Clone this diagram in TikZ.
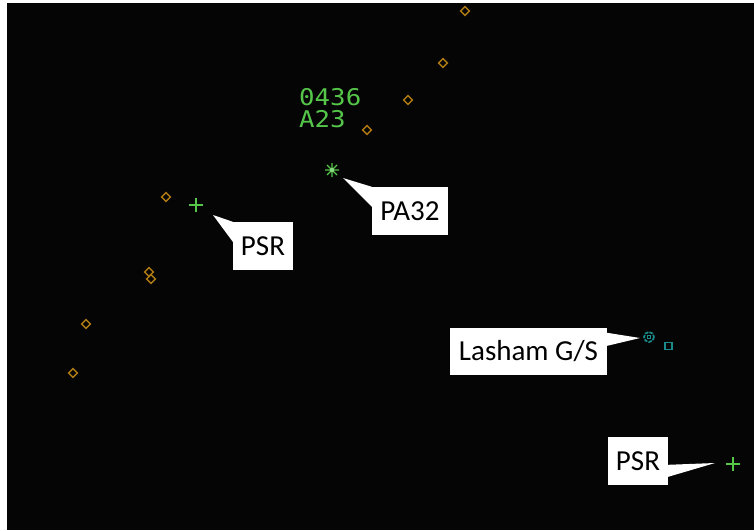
\documentclass[tikz,border=0pt]{standalone}
\usepackage{fontspec}
\setmainfont{Carlito}
\newfontfamily\radarfont{DejaVu Sans Mono}
\usetikzlibrary{shapes.geometric,calc}
\definecolor{radargreen}{HTML}{55C64A}
\definecolor{wpcol}{HTML}{B07A12}
\definecolor{gscol}{HTML}{1A8C8C}
\definecolor{screen}{HTML}{050505}
\begin{document}
\begin{tikzpicture}[x=1pt,y=-1pt,
  callout/.style={fill=white, inner sep=0pt, text=black, font=\fontsize{29}{32}\selectfont},
  wedge/.style={fill=white},
  wpt/.style={draw=wpcol, line width=1.4pt, diamond, minimum size=9.5pt, inner sep=0pt},
  symb/.style={radargreen, line width=1.3pt},
  tagtext/.style={text=radargreen, font=\radarfont\fontsize{23}{23}\selectfont, inner sep=0pt, anchor=west, xscale=1.12}
]
\useasboundingbox (0,0) rectangle (754,530);
\fill[screen] (7,3) rectangle (754,530);

% waypoints
\foreach \n/\px/\py in {w1/465/11, w2/443/63, w3/408/100, w4/367/130, w5/166/197, w6/149/272, w7/151/279, w8/86/324, w9/73/373}
  \node[wpt] (\n) at (\px,\py) {};

% track tag
\node[tagtext] (tag1) at (299,97) {0436};
\node[tagtext] (tag2) at (299,119) {A23};

% symbols
\coordinate (ast) at (332,170);
\draw[symb] ($(ast)+(-7,0)$) -- ($(ast)+(7,0)$) ($(ast)+(0,-7)$) -- ($(ast)+(0,7)$)
  ($(ast)+(-5,-5)$) -- ($(ast)+(5,5)$) ($(ast)+(-5,5)$) -- ($(ast)+(5,-5)$);
\fill[radargreen!70!white] (ast) circle (2.2);

\coordinate (p1) at (196,205);
\draw[symb] ($(p1)+(-7,0)$) -- ($(p1)+(7,0)$) ($(p1)+(0,-7)$) -- ($(p1)+(0,7)$);
\coordinate (p2) at (733,464);
\draw[symb] ($(p2)+(-7,0)$) -- ($(p2)+(7,0)$) ($(p2)+(0,-7)$) -- ($(p2)+(0,7)$);

% gliding site
\coordinate (gs) at (649,337);
\draw[gscol, line width=1.7pt, dash pattern=on 3.5pt off 1.2pt] (gs) circle (5);
\draw[gscol, line width=1.1pt] ($(gs)+(-1.8,-1.8)$) rectangle ($(gs)+(1.8,1.8)$);
\draw[gscol, line width=1.5pt] (665,342.5) rectangle (672,349.5);

% callouts
\node[callout, minimum width=76pt, minimum height=48pt] (pa) at (410,211) {PA32};
\fill[wedge] (ast) ++(11,8) -- (pa.north west) -- ($(pa.north west)+(0,20)$) -- cycle;

\node[callout, minimum width=60pt, minimum height=48pt] (psr1) at (263,246) {PSR};
\fill[wedge] (p1) ++(17,10) -- (psr1.north west) -- ($(psr1.north west)+(0,20)$) -- cycle;

\node[callout, minimum width=157pt, minimum height=47pt] (gsl) at (528.5,351.5) {Lasham G/S};
\fill[wedge] (gs) ++(-9,1) -- ($(gsl.north east)+(0,5)$) -- ($(gsl.north east)+(0,18)$) -- cycle;

\node[callout, minimum width=60pt, minimum height=48pt] (psr2) at (638,461) {PSR};
\fill[wedge] (p2) ++(-18,-1) -- ($(psr2.north east)+(0,28)$) -- ($(psr2.north east)+(0,40)$) -- cycle;
\end{tikzpicture}
\end{document}
